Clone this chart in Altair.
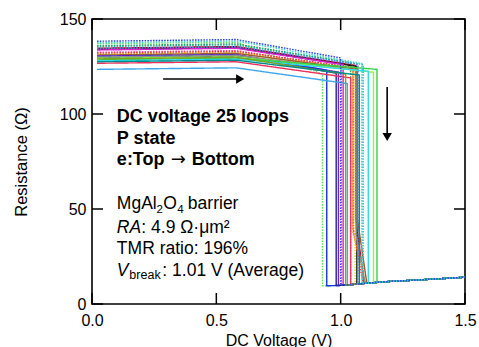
import altair as alt
import pandas as pd

# ---------------- data ----------------
loop_ids = [f"L{i:02d}" for i in range(1, 26)]
loop_colors = ["#5ee35e", "#2ca04c", "#a30016",
               "#222222", "#e01fd2", "#f04c9c", "#e33232", "#f39021",
               "#e6d51f", "#9e5a2e", "#7422c4", "#1434e6", "#23239e",
               "#8e8e8e", "#8ef23e", "#35d246", "#2fdcef", "#f0305c",
               "#3ea6ee", "#1fae9c", "#5f7ff2", "#7fa21f", "#008a8a",
               "#46d8d8", "#2a4bd7"]
loop_styles = ["dotted", "dotted", "solid",
               "solid", "solid", "dotted", "dotted", "dotted",
               "dotted", "solid", "solid", "solid", "solid",
               "solid", "solid", "solid", "solid", "solid",
               "solid", "dotted", "dotted", "solid", "solid",
               "dotted", "dotted"]
v_start = 0.02
v_knee = 0.58
r_start = [137.0, 136.0, 134.6, 134.0, 133.7, 132.5, 132.0, 131.5,
           131.0, 131.0, 130.5, 130.2, 129.5, 130.0, 129.3, 128.5, 128.0, 126.7,
           123.5, 135.5, 134.5, 129.0, 127.5, 137.5, 138.3]
r_knee = [137.8, 136.9, 135.5, 134.9, 134.6, 133.4, 132.9, 132.4,
          131.9, 131.9, 131.3, 131.0, 130.3, 130.9, 130.1, 129.4, 128.9, 127.5,
          124.3, 136.4, 135.4, 129.8, 128.3, 138.4, 139.2]
v_break = [0.927, 1.040, 1.060, 1.065, 1.010, 1.004, 1.050, 1.049,
           1.058, 1.067, 0.991, 0.944, 0.982, 1.062, 1.132, 1.146, 1.111, 1.040,
           1.027, 1.090, 1.070, 1.020, 1.075, 1.085, 1.000]
r_break = [121.0, 127.0, 125.5, 125.0, 126.0, 125.0, 124.5, 124.0,
           123.5, 123.5, 122.0, 123.0, 121.5, 123.0, 122.0, 123.5, 122.5, 119.0,
           116.0, 126.0, 126.0, 121.0, 120.5, 126.5, 129.5]
r_bend = [9.6, 10.1, 45.0, 10.6, 10.0, 9.9, 40.0, 38.0,
          10.5, 45.0, 9.7, 9.6, 9.7, 36.0, 11.3, 11.4, 11.1, 10.1,
          10.0, 10.9, 10.7, 10.0, 10.7, 10.8, 9.9]
v_bottom = [0.927, 1.040, 1.095, 1.065, 1.010, 1.004, 1.090, 1.100,
            1.058, 1.105, 0.991, 0.944, 0.982, 1.098, 1.132, 1.146, 1.111, 1.040,
            1.027, 1.090, 1.070, 1.020, 1.075, 1.085, 1.000]
r_bottom = [9.6, 10.1, 10.9, 10.6, 10.0, 9.9, 10.8, 11.0,
            10.5, 11.1, 9.7, 9.6, 9.7, 11.0, 11.3, 11.4, 11.1, 10.1,
            10.0, 10.9, 10.7, 10.0, 10.7, 10.8, 9.9]
tail_v = [0.95, 1.00, 1.05, 1.10, 1.15, 1.20, 1.25, 1.30, 1.40, 1.50]
tail_r = [9.6, 9.8, 10.3, 10.9, 11.4, 11.9, 12.2, 12.6, 13.3, 14.1]

x_ticks = [0.0, 0.5, 1.0, 1.5]
y_ticks = [0, 50, 100, 150]

FONT = "Liberation Sans"

# ---------------- build the long table ----------------
rows = []
for i, lid in enumerate(loop_ids):
    pts = [(v_start, r_start[i]), (v_knee, r_knee[i]), (v_break[i], r_break[i]),
           (v_break[i], r_bend[i]), (v_bottom[i], r_bottom[i])]
    pts += [(tv, tr) for tv, tr in zip(tail_v, tail_r) if tv > v_bottom[i]]
    for k, (v, r) in enumerate(pts):
        rows.append({"loop": lid, "style": loop_styles[i], "V": v, "R": r, "seq": k})
df = pd.DataFrame(rows)

x_scale = alt.Scale(domain=[0, 1.5], nice=False, zero=False)
y_scale = alt.Scale(domain=[0, 150], nice=False)

x_enc = alt.X("V:Q", scale=x_scale, axis=alt.Axis(
    values=x_ticks, format=".1f", title="DC Voltage (V)", ticks=False, tickSize=0,
    domain=False, grid=False, labelFont=FONT, labelFontSize=16, labelColor="black",
    labelPadding=8, labelFlush=False, titleFont=FONT, titleFontSize=16,
    titleFontWeight="normal", titleColor="black", titleY=41,
    titleBaseline="alphabetic"))
y_enc = alt.Y("R:Q", scale=y_scale, axis=alt.Axis(
    values=y_ticks, format="d", title="Resistance (Ω)", ticks=False, tickSize=0,
    domain=False, grid=False, labelFont=FONT, labelFontSize=16, labelColor="black",
    labelPadding=6, labelFlush=False, titleFont=FONT, titleFontSize=16.5,
    titleFontWeight="normal", titleColor="black", titleX=-66,
    titleBaseline="alphabetic"))

lines = alt.Chart(df).mark_line(strokeWidth=1.4).encode(
    x=x_enc, y=y_enc,
    color=alt.Color("loop:N", scale=alt.Scale(domain=loop_ids, range=loop_colors), legend=None),
    strokeDash=alt.StrokeDash("style:N", scale=alt.Scale(domain=["solid", "dotted"],
                                                          range=[[1, 0], [1.6, 1.2]]), legend=None),
    detail="loop:N",
    order="seq:Q",
)

# inward ticks on all four sides
xt = pd.DataFrame({"V": x_ticks})
yt = pd.DataFrame({"R": y_ticks})
tick_kw = dict(color="black", strokeWidth=1.5)
t_bottom = alt.Chart(xt).mark_rule(**tick_kw).encode(x=x_enc, y=alt.value(285), y2=alt.value(274))
t_top = alt.Chart(xt).mark_rule(**tick_kw).encode(x=x_enc, y=alt.value(0), y2=alt.value(11))
t_left = alt.Chart(yt).mark_rule(**tick_kw).encode(y=y_enc, x=alt.value(0), x2=alt.value(11))
t_right = alt.Chart(yt).mark_rule(**tick_kw).encode(y=y_enc, x=alt.value(373), x2=alt.value(362))


def label(text, v, r, size=17.5, weight="normal", style="normal", dx=0, dy=0, font=FONT):
    d = pd.DataFrame({"V": [v], "R": [r], "t": [text]})
    return alt.Chart(d).mark_text(
        font=font, fontSize=size, fontWeight=weight, fontStyle=style, align="left",
        baseline="alphabetic", dx=dx, dy=dy, color="black").encode(x=x_enc, y=y_enc, text="t:N")


TX = 0.1
texts = [
    label("DC voltage 25 loops", TX, 95.6, size=18, weight="bold"),
    label("P state", TX, 84.2, size=18, weight="bold"),
    label("e:Top", TX, 72.9, size=18, weight="bold"),
    label("→", TX, 72.9, size=18, dx=54, font="DejaVu Sans"),
    label("Bottom", TX, 72.9, size=18, weight="bold", dx=75),
    label("MgAl", TX, 50.2),
    label("2", TX, 50.2, size=11.5, dx=39.7, dy=4),
    label("O", TX, 50.2, dx=46.3),
    label("4", TX, 50.2, size=11.5, dx=60.3, dy=4),
    label("barrier", TX, 50.2, dx=71),
    label("RA", TX, 37.6, style="italic"),
    label(": 4.9 Ω·μm²", TX, 37.6, dx=24.5),
    label("TMR ratio: 196%", TX, 26.3),
    label("V", TX, 15.0, style="italic"),
    label("break", TX, 15.0, size=12.5, dx=12.5, dy=3),
    label(": 1.01 V (Average)", TX, 15.0, dx=45.5),
]

# arrows
h_line = alt.Chart(pd.DataFrame({"V": [0.286], "V2": [0.585], "R": [118.4]})).mark_rule(
    color="black", strokeWidth=1.6).encode(x=x_enc, x2="V2:Q", y=y_enc)
h_head = alt.Chart(pd.DataFrame({"V": [0.596], "R": [118.4]})).mark_point(
    shape="triangle-right", filled=True, size=90, color="black", opacity=1).encode(x=x_enc, y=y_enc)
v_line = alt.Chart(pd.DataFrame({"V": [1.187], "R": [114.2], "R2": [89.0]})).mark_rule(
    color="black", strokeWidth=1.6).encode(x=x_enc, y=y_enc, y2="R2:Q")
v_head = alt.Chart(pd.DataFrame({"V": [1.187], "R": [87.9]})).mark_point(
    shape="triangle-down", filled=True, size=90, color="black", opacity=1).encode(x=x_enc, y=y_enc)

chart = alt.layer(lines, t_bottom, t_top, t_left, t_right, h_line, h_head, v_line, v_head,
                  *texts).properties(
    width=373, height=285,
    autosize=alt.AutoSizeParams(type="none"),
    padding={"left": 92, "top": 19, "right": 14, "bottom": 43},
    background="white",
).configure_view(stroke="black", strokeWidth=1.6)

chart.save("out.html", embed_options={"renderer": "svg", "actions": False})
